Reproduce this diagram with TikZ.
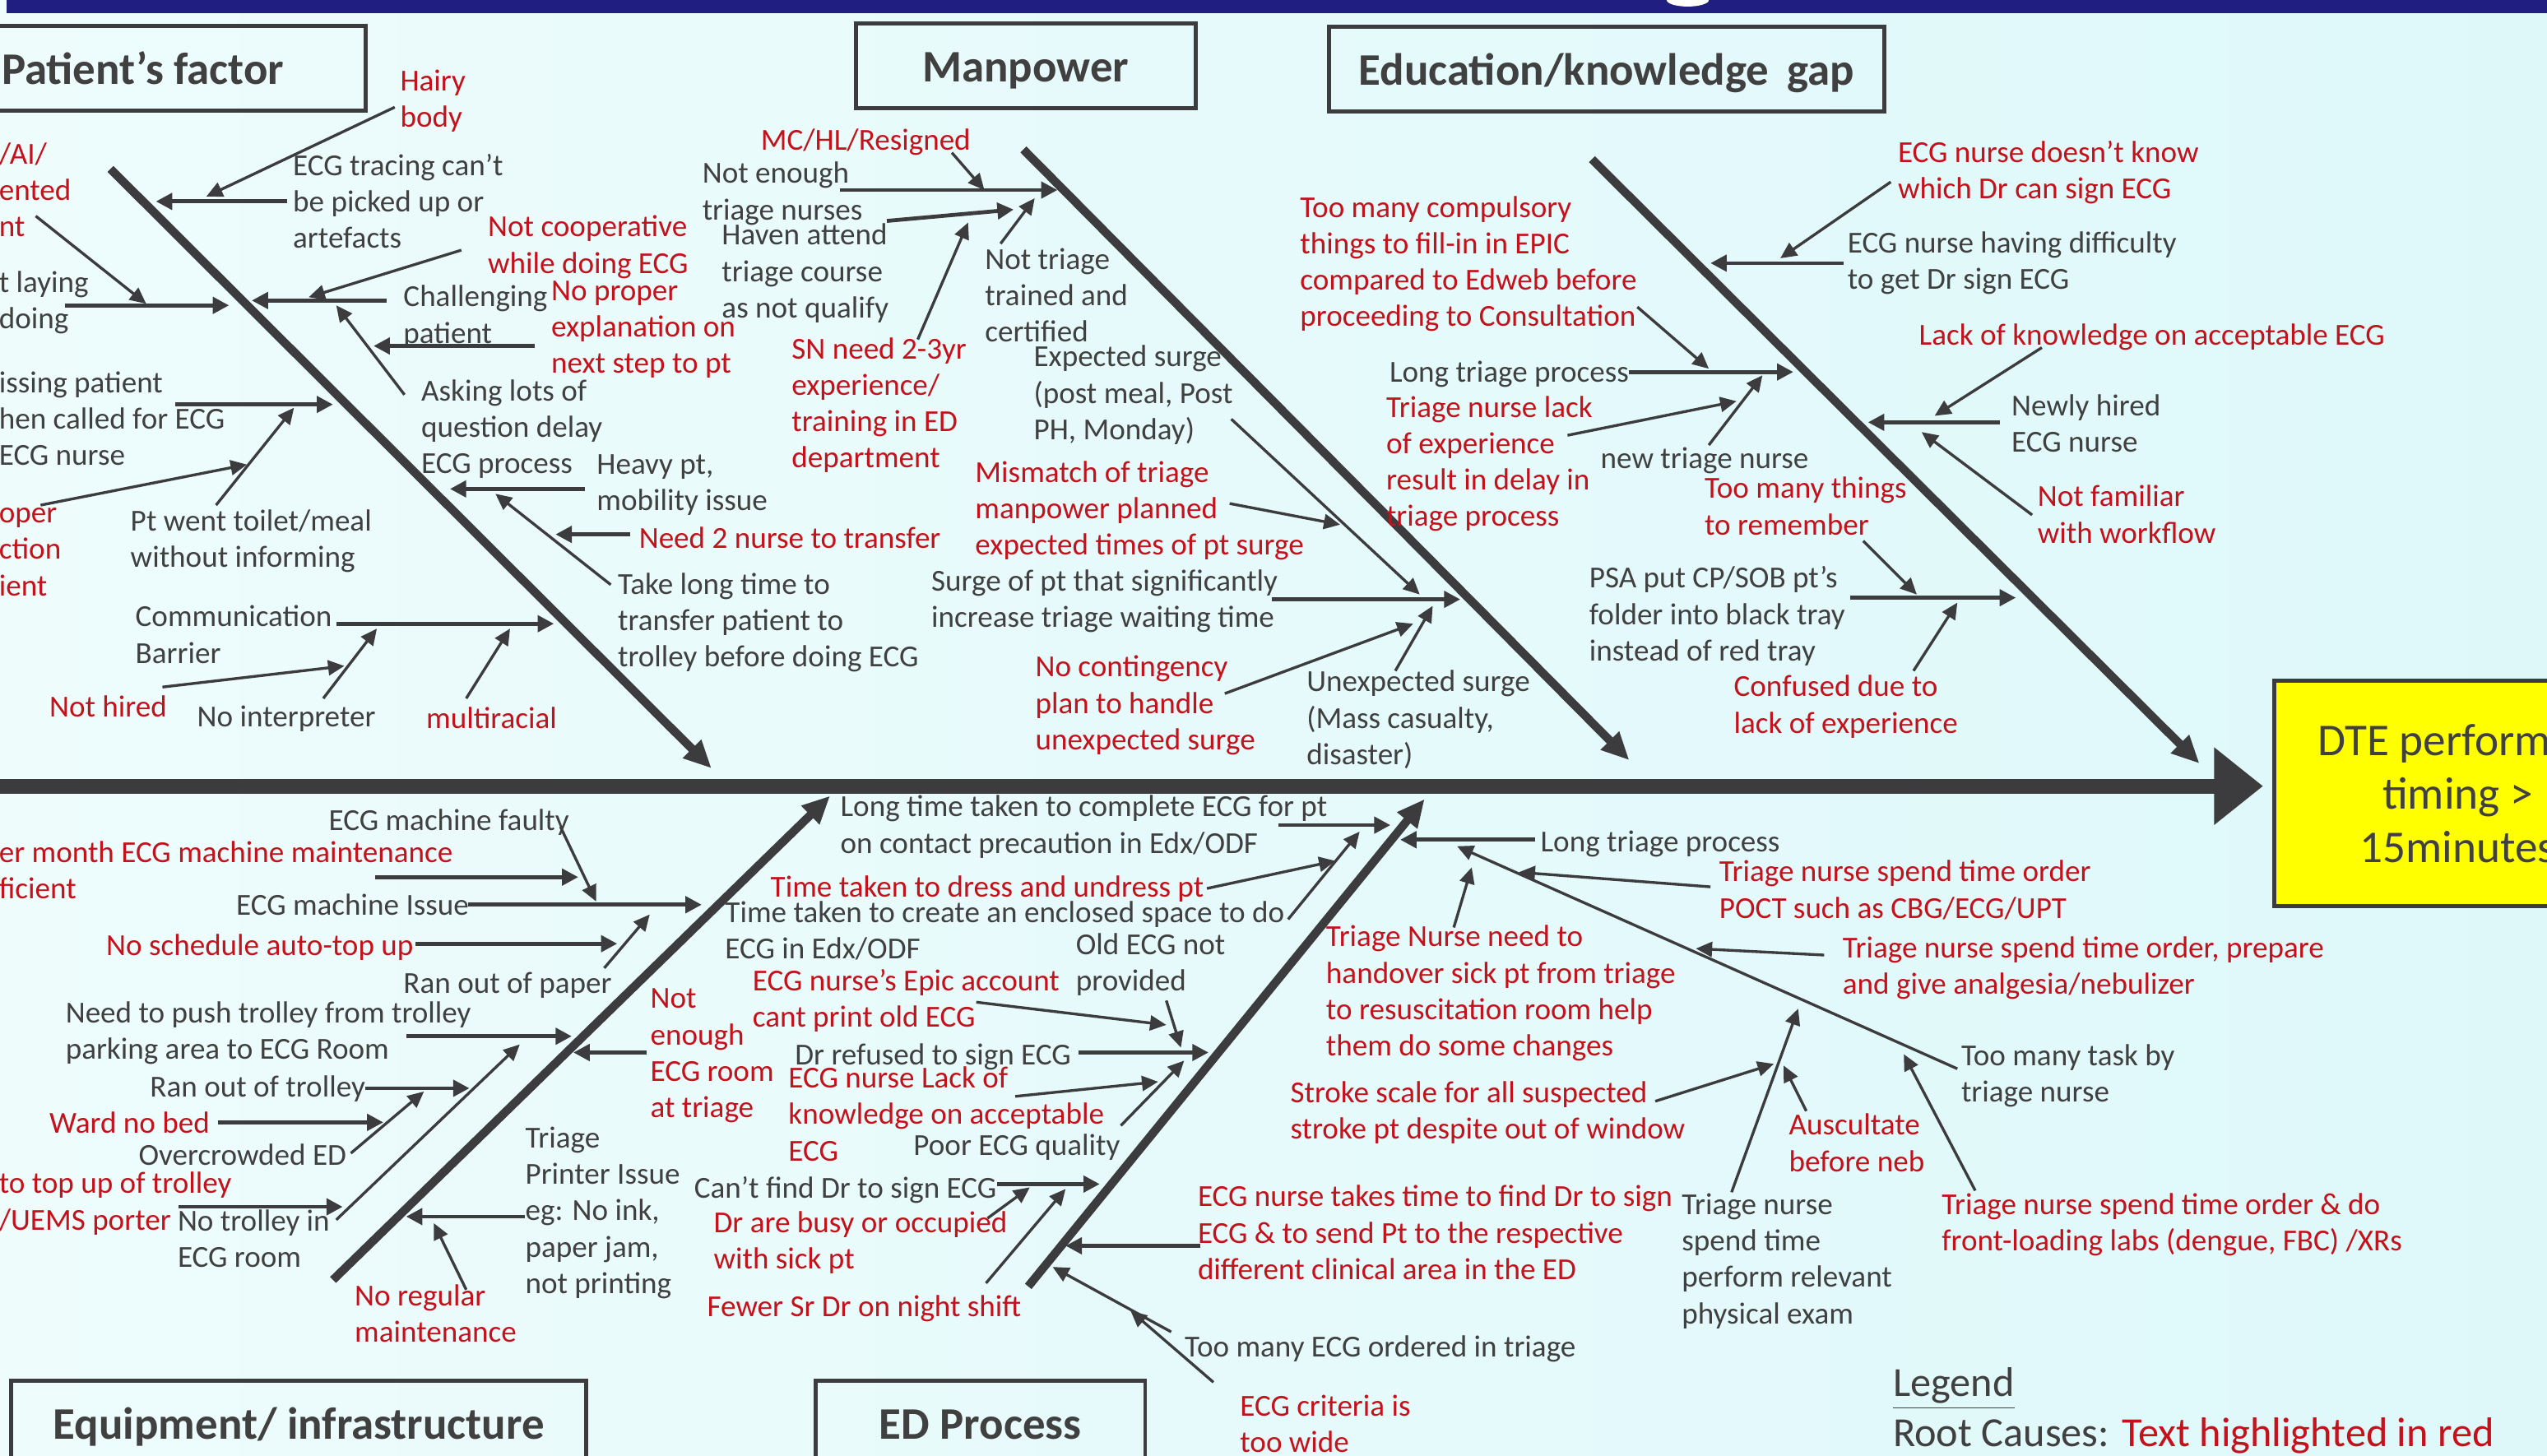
\documentclass[tikz,border=0pt]{standalone}
\usepackage{fontspec}
\setmainfont{Carlito}
\usetikzlibrary{arrows.meta}
\definecolor{bgleft}{RGB}{238,252,252}
\definecolor{bgright}{RGB}{222,248,250}
\definecolor{navybar}{RGB}{32,30,128}
\definecolor{inkline}{RGB}{60,60,62}
\definecolor{causegray}{RGB}{64,64,64}
\definecolor{rootred}{RGB}{196,18,28}
\definecolor{effyellow}{RGB}{255,255,0}
\newcommand\causefont{\fontsize{9.4}{11.2}\selectfont}
\newcommand\catfont{\fontsize{13.9}{16}\selectfont\bfseries}
\newcommand\effectfont{\fontsize{14}{16.5}\selectfont}
\newcommand\legendfont{\fontsize{12.75}{15.5}\selectfont}
\tikzset{
  bone/.style={line width=2.6pt,draw=inkline,-{Triangle[length=8.5pt,width=7.5pt]}},
  sub/.style={line width=1.2pt,draw=inkline,-{Triangle[length=5pt,width=5pt]}},
  twig/.style={line width=0.85pt,draw=inkline,-{Triangle[length=5pt,width=4.6pt]}},
  cause/.style={inner sep=0pt,anchor=north west,align=left,text=causegray,font=\causefont,yshift=4.3pt,execute at begin node=\strut},
  root/.style={cause,text=rootred},
  catbox/.style={draw=inkline,line width=1.2pt,text=causegray,font=\catfont,minimum height=26pt,text height=9.8pt,text depth=0pt},
  effbox/.style={draw=inkline,line width=1.2pt,fill=effyellow,text=causegray,font=\effectfont,align=center,minimum width=113pt,minimum height=69.5pt},
  legend/.style={inner sep=0pt,anchor=north west,align=left,text=causegray,font=\legendfont,yshift=7.3pt,execute at begin node=\strut}
}
\begin{document}
\begin{tikzpicture}[x=0.5pt,y=-0.5pt]
\useasboundingbox (0,0) rectangle (1568,896);
\clip (0,0) rectangle (1568,896);
\shade[left color=bgleft,right color=bgright] (0,0) rectangle (1568,896);
\fill[navybar] (4,0) rectangle (1568,8);
\fill[white] (1039,0) ellipse (6.5pt and 2pt);
\draw[line width=4.5pt,inkline] (0,484) -- (1366,484);
\fill[inkline] (1363,460) -- (1393,484) -- (1363,508) -- cycle;
\node[catbox,minimum width=137pt] (pfbox) at (88,42) {Patient's factor};
\node[catbox,minimum width=104.5pt] (mpbox) at (631.5,40.5) {Manpower};
\node[catbox,minimum width=171pt] (egbox) at (989,42.5) {Education/knowledge\hspace{.4em}gap};
\node[catbox,minimum width=177pt] (eqbox) at (184,876) {Equipment/ infrastructure};
\node[catbox,minimum width=101.5pt] (epbox) at (603.5,876) {ED Process};
\node[effbox] (dte) at (1513,488.5) {DTE performed\\timing >\\15minutes};
\draw[bone] (68,104) -- (438,473);
\draw[bone] (630,92) -- (1003,468);
\draw[bone] (980,98) -- (1354,470);
\draw[bone] (205,788) -- (511,490);
\draw[bone] (633,792) -- (877,492);
\node[root] (pf1) at (-1,96) {/AI/\\ented\\nt};
\node[cause] (pf2) at (-1,175) {t laying\\doing};
\node[cause] (pf3) at (180,103) {ECG tracing can't\\be picked up or\\artefacts};
\node[root] (pf4) at (246,51) {Hairy\\body};
\node[root] (pf5) at (300,141) {Not cooperative\\while doing ECG};
\node[cause] (pf6) at (248,184) {Challenging\\patient};
\node[root] (pf7) at (339,181) {No proper\\explanation on\\next step to pt};
\node[cause] (pf8) at (259,242) {Asking lots of\\question delay\\ECG process};
\node[cause] (pf9) at (-1,237) {issing patient\\hen called for ECG\\ ECG nurse};
\node[root] (pf10) at (-1,321) {oper\\ction\\ient};
\node[cause] (pf11) at (80,322) {Pt went toilet/meal\\without informing};
\node[cause] (pf12) at (367,288) {Heavy pt,\\mobility issue};
\node[root] (pf13) at (393,330) {Need 2 nurse to transfer};
\node[cause] (pf14) at (380,361) {Take long time to\\transfer patient to\\trolley before doing ECG};
\node[cause] (pf15) at (83,381) {Communication\\Barrier};
\node[root] (pf16) at (30,434) {Not hired};
\node[cause] (pf17) at (121,440) {No interpreter};
\node[root] (pf18) at (262,441) {multiracial};
\draw[sub] (177,124) -- (96,124);
\draw[twig] (243,66) -- (127,121);
\draw[sub] (40,188) -- (141,188);
\draw[twig] (22,133) -- (90,187);
\draw[sub] (238,185) -- (155,185);
\draw[twig] (284,154) -- (190,183);
\draw[sub] (329,213) -- (230,213);
\draw[twig] (249,243) -- (207,188);
\draw[sub] (108,249) -- (205,249);
\draw[twig] (133,311) -- (181,251);
\draw[twig] (25,311) -- (152,286);
\draw[sub] (360,301) -- (277,301);
\draw[sub] (388,329) -- (342,329);
\draw[twig] (376,360) -- (305,304);
\draw[sub] (207,384) -- (341,384);
\draw[twig] (100,423) -- (212,410);
\draw[twig] (199,430) -- (232,387);
\draw[twig] (287,430) -- (314,387);
\node[root] (mp1) at (468,85) {MC/HL/Resigned};
\node[cause] (mp2) at (432,108) {Not enough\\triage nurses};
\node[cause] (mp3) at (444,146) {Haven attend\\triage course\\as not qualify};
\node[cause] (mp4) at (606,161) {Not triage\\trained and\\certified};
\node[root] (mp5) at (487,216) {SN need 2-3yr\\experience/\\training in ED\\department};
\node[cause] (mp6) at (636,221) {Expected surge\\(post meal, Post\\PH, Monday)};
\node[root] (mp7) at (600,292) {Mismatch of triage\\manpower planned\\expected times of pt surge};
\node[cause] (mp8) at (573,359) {Surge of pt that significantly\\increase triage waiting time};
\node[root] (mp9) at (637,412) {No contingency\\plan to handle\\unexpected surge};
\node[cause] (mp10) at (804,421) {Unexpected surge\\(Mass casualty,\\disaster)};
\draw[twig] (586,94) -- (606,117);
\draw[sub] (517,117) -- (651,117);
\draw[sub] (546,136) -- (624,129);
\draw[twig] (616,150) -- (637,122);
\draw[twig] (565,209) -- (596,137);
\draw[twig] (758,258) -- (874,366);
\draw[twig] (757,310) -- (825,323);
\draw[sub] (783,369) -- (899,369);
\draw[twig] (754,427) -- (870,384);
\draw[twig] (859,413) -- (882,373);
\node[root] (eg1) at (1168,95) {ECG nurse doesn't know\\which Dr can sign ECG};
\node[cause] (eg2) at (1137,151) {ECG nurse having difficulty\\to get Dr sign ECG};
\node[root] (eg3) at (800,129) {Too many compulsory\\things to fill-in in EPIC\\compared to Edweb before\\proceeding to Consultation};
\node[cause] (eg4) at (855,228) {Long triage process};
\node[root] (eg5) at (853,252) {Triage nurse lack\\of experience\\result in delay in\\triage process};
\node[cause] (eg6) at (985,281) {new triage nurse};
\node[root] (eg7) at (1181,205) {Lack of knowledge on acceptable ECG};
\node[cause] (eg8) at (1238,251) {Newly hired\\ECG nurse};
\node[root] (eg9) at (1254,307) {Not familiar\\with workflow};
\node[root] (eg10) at (1049,302) {Too many things\\to remember};
\node[cause] (eg11) at (978,357) {PSA put CP/SOB pt's\\folder into black tray\\instead of red tray};
\node[root] (eg12) at (1067,424) {Confused due to\\lack of experience};
\draw[twig] (1164,112) -- (1096,159);
\draw[sub] (1135,162) -- (1053,162);
\draw[twig] (1008,189) -- (1052,227);
\draw[sub] (1003,229) -- (1104,229);
\draw[twig] (965,268) -- (1069,247);
\draw[twig] (1052,274) -- (1085,231);
\draw[twig] (1257,214) -- (1191,256);
\draw[sub] (1231,260) -- (1150,260);
\draw[twig] (1251,317) -- (1183,266);
\draw[twig] (1147,333) -- (1180,366);
\draw[sub] (1139,368) -- (1241,368);
\draw[twig] (1178,413) -- (1205,371);
\node[cause] (eq1) at (202,504) {ECG machine faulty};
\node[root] (eq2) at (-1,526) {er month ECG machine maintenance\\ficient};
\node[cause] (eq3) at (145,556) {ECG machine Issue};
\node[root] (eq4) at (65,581) {No schedule auto-top up};
\node[cause] (eq5) at (248,604) {Ran out of paper};
\node[cause] (eq6) at (40,625) {Need to push trolley from trolley\\parking area to ECG Room};
\node[root] (eq7) at (400,617) {Not\\enough\\ECG room\\at triage};
\node[cause] (eq8) at (92,668) {Ran out of trolley};
\node[root] (eq9) at (30,690) {Ward no bed};
\node[cause] (eq10) at (85,710) {Overcrowded ED};
\node[root] (eq11) at (-1,730) {to top up of trolley\\/UEMS porter};
\node[cause] (eq12) at (109,753) {No trolley in\\ECG room};
\node[cause] (eq13) at (323,702) {Triage\\Printer Issue\\eg: No ink,\\paper jam,\\not printing};
\node[root] (eq14) at (218,799) {No regular\\maintenance};
\draw[twig] (345,509) -- (367,555);
\draw[sub] (231,540) -- (356,540);
\draw[sub] (288,557) -- (432,557);
\draw[sub] (256,581) -- (380,581);
\draw[twig] (372,596) -- (400,563);
\draw[sub] (250,638) -- (352,638);
\draw[sub] (398,648) -- (353,648);
\draw[sub] (225,670) -- (289,670);
\draw[sub] (134,691) -- (236,691);
\draw[twig] (216,710) -- (261,672);
\draw[sub] (110,743) -- (211,743);
\draw[twig] (207,751) -- (320,643);
\draw[sub] (323,749) -- (250,749);
\draw[twig] (287,794) -- (267,753);
\node[cause] (ep1) at (517,498) {Long time taken to complete ECG for pt\\on contact precaution in Edx/ODF};
\node[root] (ep2) at (474,545) {Time taken to dress and undress pt};
\node[cause] (ep3) at (446,563) {Time taken to create an enclosed space to do\\ECG in Edx/ODF};
\node[cause] (ep4) at (662,583) {Old ECG not\\provided};
\node[root] (ep5) at (463,605) {ECG nurse's Epic account\\cant print old ECG};
\node[cause] (ep6) at (489,648) {Dr refused to sign ECG};
\node[root] (ep7) at (485,665) {ECG nurse Lack of\\knowledge on acceptable\\ECG};
\node[cause] (ep8) at (562,704) {Poor ECG quality};
\node[cause] (ep9) at (427,730) {Can't find Dr to sign ECG};
\node[root] (ep10) at (439,754) {Dr are busy or occupied\\with sick pt};
\node[root] (ep11) at (435,803) {Fewer Sr Dr on night shift};
\node[root] (ep12) at (737,738) {ECG nurse takes time to find Dr to sign\\ECG \& to send Pt to the respective\\different clinical area in the ED};
\node[cause] (ep13) at (729,828) {Too many ECG ordered in triage};
\node[root] (ep14) at (763,867) {ECG criteria is\\too wide};
\draw[sub] (787,508) -- (856,508);
\draw[twig] (743,547) -- (822,530);
\draw[twig] (793,566) -- (837,512);
\draw[twig] (718,616) -- (727,645);
\draw[twig] (601,617) -- (718,631);
\draw[sub] (664,648) -- (744,648);
\draw[twig] (625,675) -- (713,666);
\draw[twig] (690,693) -- (729,653);
\draw[sub] (614,729) -- (677,729);
\draw[twig] (608,750) -- (634,731);
\draw[twig] (607,790) -- (656,732);
\draw[sub] (739,767) -- (656,767);
\draw[twig] (721,820) -- (648,780);
\draw[twig] (747,851) -- (696,807);
\node[cause] (tr1) at (948,517) {Long triage process};
\node[root] (tr2) at (1058,538) {Triage nurse spend time order\\POCT such as CBG/ECG/UPT};
\node[root] (tr3) at (1134,585) {Triage nurse spend time order, prepare\\and give analgesia/nebulizer};
\node[root] (tr4) at (816,578) {Triage Nurse need to\\handover sick pt from triage\\to resuscitation room help\\them do some changes};
\node[cause] (tr5) at (1207,651) {Too many task by\\triage nurse};
\node[root] (tr6) at (794,674) {Stroke scale for all suspected\\stroke pt despite out of window};
\node[root] (tr7) at (1101,694) {Auscultate\\before neb};
\node[cause] (tr8) at (1035,743) {Triage nurse\\spend time\\perform relevant\\physical exam};
\node[root] (tr9) at (1195,743) {Triage nurse spend time order \& do\\front-loading labs (dengue, FBC) /XRs};
\draw[twig] (1205,658) -- (897,521);
\draw[sub] (945,517) -- (862,517);
\draw[twig] (1053,546) -- (935,537);
\draw[twig] (1123,588) -- (1044,584);
\draw[twig] (895,571) -- (906,534);
\draw[twig] (1019,678) -- (1092,655);
\draw[twig] (1112,684) -- (1098,656);
\draw[twig] (1066,734) -- (1107,621);
\draw[twig] (1216,733) -- (1172,649);
\node[legend] (lg1) at (1165,852) {\underline{Legend}};
\node[legend] (lg2) at (1165,883) {Root Causes: \textcolor{rootred}{Text highlighted in red}};
\end{tikzpicture}
\end{document}
